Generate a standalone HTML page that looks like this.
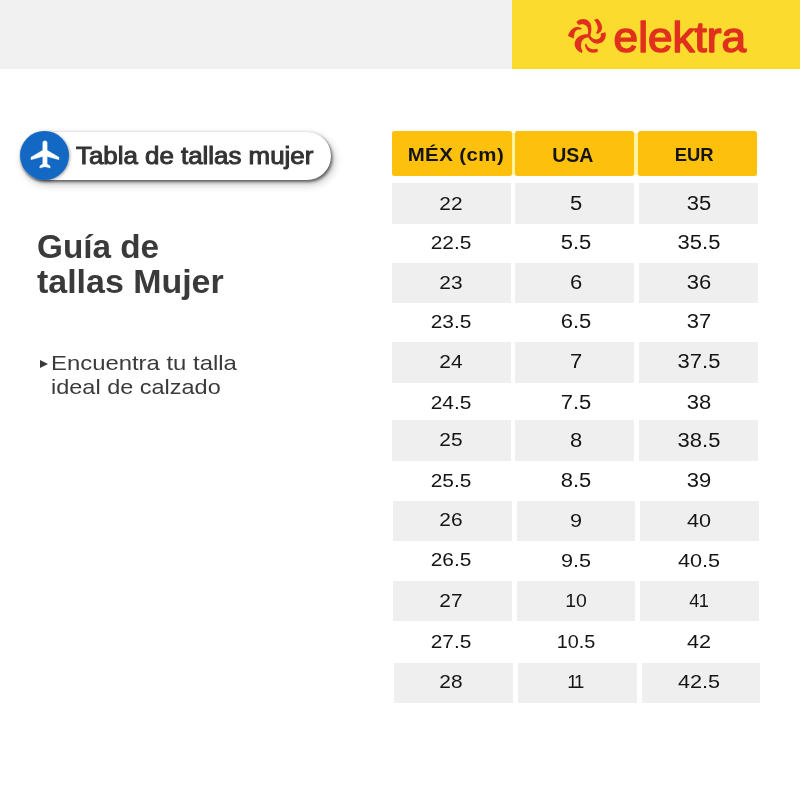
<!DOCTYPE html>
<html lang="es">
<head>
<meta charset="utf-8">
<title>Guía de tallas Mujer</title>
<style>
*{box-sizing:border-box;margin:0;padding:0}
html,body{width:800px;height:800px;overflow:hidden;background:#fff}
body{position:relative;font-family:"Liberation Sans",sans-serif;color:#333}
.abs{position:absolute}
#topgrey{left:0;top:0;width:512px;height:68.6px;background:#f1f1f1}
#topyel{left:512px;top:0;width:288px;height:68.7px;background:#fbdc2e}
#logo{left:560px;top:10px;width:60px;height:60px}
#brand{left:613px;top:10px;width:140px;height:50px}
#pill{left:20px;top:131.5px;width:310.5px;height:48px;border-radius:24px;background:#fff;box-shadow:1.5px 2px 3px rgba(0,0,0,.5), 3px 4px 9px rgba(0,0,0,.25), 0 0 3px rgba(0,0,0,.12)}
#circ{left:19.8px;top:131px;width:49.4px;height:49.4px;border-radius:50%;background:#1268c3;box-shadow:1px 1px 3px rgba(0,0,0,.35)}
#plane{left:27.85px;top:137.8px;width:35.4px;height:32.8px}
#pilltxt{left:76.4px;top:139.2px;font-weight:normal;-webkit-text-stroke:0.95px #333;font-size:23px;line-height:34px;white-space:nowrap;color:#333;transform:scaleX(1.125);transform-origin:0 50%}
.tl{position:absolute;font-weight:bold;font-size:33px;line-height:36px;color:#3a3a3a;white-space:nowrap;transform-origin:0 50%}
.sl{position:absolute;font-size:19.8px;line-height:24px;color:#3a3a3a;white-space:nowrap;transform-origin:0 50%}
#tri{left:40.2px;top:359.9px;width:0;height:0;border-left:8px solid #3a3a3a;border-top:4.3px solid transparent;border-bottom:4.3px solid transparent}
.thbg{position:absolute;left:394px;top:133px;width:362px;height:42px;background:#fff3a0}
.th{position:absolute;top:131.3px;height:45.2px;background:#fdc10d;border-radius:2.5px;font-weight:bold;font-size:19px;line-height:48.6px;text-align:center;color:#141414;white-space:nowrap}
.bg{position:absolute;background:#efefef}
.td{position:absolute;width:120px;height:40px;font-size:19px;line-height:40px;text-align:center;color:#151515;white-space:nowrap}
</style>
</head>
<body>
<div id="topgrey" class="abs"></div>
<div id="topyel" class="abs"></div>
<svg id="logo" class="abs" viewBox="0 0 800 800">
<g fill="#e0301e">
<path d="M218,160 C262,108 352,100 398,165 C428,210 422,290 400,352 L368,338 C382,290 378,235 345,208 C318,186 280,186 248,200 Z"/>
<path d="M404,340 C430,392 492,408 528,378 C546,360 548,335 542,312 L606,298 C620,350 602,412 550,438 C490,465 412,442 370,350 Z"/>
<path d="M394,326 C330,316 260,328 213,393 C178,450 193,532 290,574 L302,545 C272,502 275,440 298,405 C320,376 352,364 390,364 Z"/>
<path d="M453,130 L502,116 C545,158 572,215 556,264 C546,292 522,310 496,320 L480,303 C503,275 510,240 497,202 C488,174 470,150 453,130 Z"/>
<path d="M106,346 C122,292 155,246 208,231 C236,224 264,230 290,243 L280,264 C252,256 224,262 206,284 C190,306 188,344 183,380 Z"/>
<path d="M332,458 L348,450 C362,490 392,515 430,522 C455,526 480,522 502,518 L502,560 C465,572 420,572 385,555 C350,535 335,500 332,458 Z"/>
</g>
</svg>
<svg id="brand" class="abs" viewBox="0 0 140 50"><text x="0.6" y="42.4" font-family="Liberation Sans, sans-serif" font-size="43" fill="#e0301e" stroke="#e0301e" stroke-width="1.5" stroke-linejoin="round" stroke-linecap="round" textLength="132.5" lengthAdjust="spacingAndGlyphs">elektra</text></svg>

<div id="pill" class="abs"></div>
<div id="circ" class="abs"></div>
<svg id="plane" class="abs" viewBox="0 0 24 24" preserveAspectRatio="none"><path fill="#fff" stroke="#fff" stroke-width="0.25" stroke-linejoin="round" d="M21 16v-2l-8-5V3.500c0-.83-.67-1.500-1.500-1.500S10 2.670 10 3.500V9l-8 5v2l8-2.500V19l-2 1.500V22l3.500-1 3.500 1v-1.500L13 19v-5.500l8 2.500z"/></svg>
<div id="pilltxt" class="abs">Tabla de tallas mujer</div>
<div class="tl" style="left:37.1px;top:228.7px;transform:scaleX(1.009)">Guía de</div>
<div class="tl" style="left:37px;top:263.6px;transform:scaleX(1.028)">tallas Mujer</div>
<div id="tri" class="abs"></div>
<div class="sl" style="left:50.6px;top:351.4px;transform:scaleX(1.207)">Encuentra tu talla</div>
<div class="sl" style="left:50.6px;top:374.8px;transform:scaleX(1.187)">ideal de calzado</div>

<div id="tbl">
<div class="bg" style="left:391.5px;top:183.3px;width:119.75px;height:40.6px"></div>
<div class="bg" style="left:515.4px;top:183.3px;width:118.50px;height:40.6px"></div>
<div class="bg" style="left:638.75px;top:183.3px;width:118.75px;height:40.6px"></div>
<div class="bg" style="left:391.5px;top:262.9px;width:119.75px;height:40.2px"></div>
<div class="bg" style="left:515.4px;top:262.9px;width:118.50px;height:40.2px"></div>
<div class="bg" style="left:638.75px;top:262.9px;width:118.75px;height:40.2px"></div>
<div class="bg" style="left:391.5px;top:342.4px;width:119.75px;height:40.5px"></div>
<div class="bg" style="left:515.4px;top:342.4px;width:118.50px;height:40.5px"></div>
<div class="bg" style="left:638.75px;top:342.4px;width:118.75px;height:40.5px"></div>
<div class="bg" style="left:391.5px;top:420.2px;width:119.75px;height:40.7px"></div>
<div class="bg" style="left:515.4px;top:420.2px;width:118.50px;height:40.7px"></div>
<div class="bg" style="left:638.75px;top:420.2px;width:118.75px;height:40.7px"></div>
<div class="bg" style="left:393.1px;top:500.6px;width:118.90px;height:40.3px"></div>
<div class="bg" style="left:516.9px;top:500.6px;width:118.60px;height:40.3px"></div>
<div class="bg" style="left:640px;top:500.6px;width:119.40px;height:40.3px"></div>
<div class="bg" style="left:393.1px;top:580.5px;width:118.90px;height:40.5px"></div>
<div class="bg" style="left:516.9px;top:580.5px;width:118.60px;height:40.5px"></div>
<div class="bg" style="left:640px;top:580.5px;width:119.40px;height:40.5px"></div>
<div class="bg" style="left:394.2px;top:662.7px;width:118.55px;height:39.9px"></div>
<div class="bg" style="left:518.4px;top:662.7px;width:118.20px;height:39.9px"></div>
<div class="bg" style="left:641.5px;top:662.7px;width:118.80px;height:39.9px"></div>
<div class="thbg"></div><div class="th" style="left:392px;width:120px"><span style="display:inline-block;position:relative;left:4px;letter-spacing:.4px;transform:scaleX(1.075)">MÉX (cm)</span></div><div class="th" style="left:514.6px;width:119.8px"><span style="position:relative;left:-1.7px;font-size:19.5px">USA</span></div><div class="th" style="left:638px;width:119.4px"><span style="position:relative;left:-3.6px;font-size:18.4px">EUR</span></div>
<div class="td" style="left:391px;top:183.92px;font-size:19px;transform:scaleX(1.1)">22</div><div class="td" style="left:515.7px;top:183.27px;font-size:20px;transform:scaleX(1.1)">5</div><div class="td" style="left:638.5px;top:183.27px;font-size:20px;transform:scaleX(1.1)">35</div>
<div class="td" style="left:391px;top:222.62px;font-size:19px;transform:scaleX(1.1)">22.5</div><div class="td" style="left:515.7px;top:221.97px;font-size:20px;transform:scaleX(1.1)">5.5</div><div class="td" style="left:638.5px;top:221.97px;font-size:20px;transform:scaleX(1.1)">35.5</div>
<div class="td" style="left:391px;top:262.72px;font-size:19px;transform:scaleX(1.1)">23</div><div class="td" style="left:515.7px;top:262.07px;font-size:20px;transform:scaleX(1.1)">6</div><div class="td" style="left:638.5px;top:262.07px;font-size:20px;transform:scaleX(1.1)">36</div>
<div class="td" style="left:391px;top:301.92px;font-size:19px;transform:scaleX(1.1)">23.5</div><div class="td" style="left:515.7px;top:301.27px;font-size:20px;transform:scaleX(1.1)">6.5</div><div class="td" style="left:638.5px;top:301.27px;font-size:20px;transform:scaleX(1.1)">37</div>
<div class="td" style="left:391px;top:341.72px;font-size:19px;transform:scaleX(1.1)">24</div><div class="td" style="left:515.7px;top:341.07px;font-size:20px;transform:scaleX(1.1)">7</div><div class="td" style="left:638.5px;top:341.07px;font-size:20px;transform:scaleX(1.1)">37.5</div>
<div class="td" style="left:391px;top:382.67px;font-size:19px;transform:scaleX(1.1)">24.5</div><div class="td" style="left:515.7px;top:382.02px;font-size:20px;transform:scaleX(1.1)">7.5</div><div class="td" style="left:638.5px;top:382.02px;font-size:20px;transform:scaleX(1.1)">38</div>
<div class="td" style="left:391px;top:420.47px;font-size:19px;transform:scaleX(1.1)">25</div><div class="td" style="left:515.7px;top:419.82px;font-size:20px;transform:scaleX(1.1)">8</div><div class="td" style="left:638.5px;top:419.82px;font-size:20px;transform:scaleX(1.1)">38.5</div>
<div class="td" style="left:391px;top:461.02px;font-size:19px;transform:scaleX(1.1)">25.5</div><div class="td" style="left:515.7px;top:460.37px;font-size:20px;transform:scaleX(1.1)">8.5</div><div class="td" style="left:638.5px;top:460.37px;font-size:20px;transform:scaleX(1.1)">39</div>
<div class="td" style="left:391px;top:500.42px;font-size:19px;transform:scaleX(1.1)">26</div><div class="td" style="left:515.7px;top:500.59px;font-size:18.5px;transform:scaleX(1.17)">9</div><div class="td" style="left:638.5px;top:500.59px;font-size:18.5px;transform:scaleX(1.17)">40</div>
<div class="td" style="left:391px;top:540.42px;font-size:19px;transform:scaleX(1.1)">26.5</div><div class="td" style="left:515.7px;top:540.59px;font-size:18.5px;transform:scaleX(1.17)">9.5</div><div class="td" style="left:638.5px;top:540.59px;font-size:18.5px;transform:scaleX(1.17)">40.5</div>
<div class="td" style="left:391px;top:581.17px;font-size:19px;transform:scaleX(1.1)">27</div><div class="td" style="left:515.7px;top:581.34px;font-size:18.5px;transform:scaleX(1.05)">10</div><div class="td" style="left:638.5px;top:581.34px;font-size:18.5px;transform:scaleX(0.98);letter-spacing:-0.6px;text-indent:-0.6px">41</div>
<div class="td" style="left:391px;top:621.92px;font-size:19px;transform:scaleX(1.1)">27.5</div><div class="td" style="left:515.7px;top:622.09px;font-size:18.5px;transform:scaleX(1.07)">10.5</div><div class="td" style="left:638.5px;top:622.09px;font-size:18.5px;transform:scaleX(1.17)">42</div>
<div class="td" style="left:391px;top:661.92px;font-size:19px;transform:scaleX(1.1)">28</div><div class="td" style="left:515.7px;top:662.09px;font-size:18.5px;transform:scaleX(1.0);letter-spacing:-2.2px;text-indent:-2.2px">11</div><div class="td" style="left:638.5px;top:662.09px;font-size:18.5px;transform:scaleX(1.17)">42.5</div>
</div>
</body>
</html>
